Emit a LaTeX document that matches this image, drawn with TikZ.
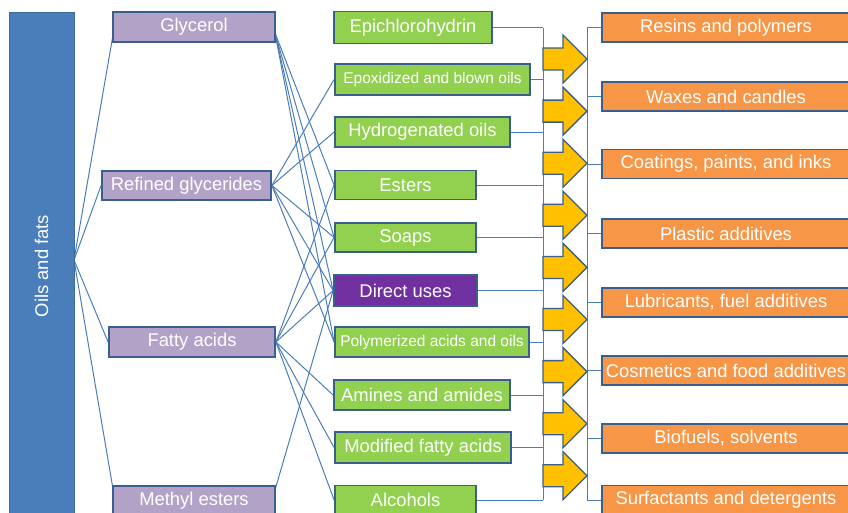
\documentclass[tikz,border=0pt]{standalone}
\usepackage{fontspec}
\setmainfont{Liberation Sans}
\usetikzlibrary{calc,backgrounds}
\definecolor{barblue}{HTML}{4A7EBB}
\definecolor{barline}{HTML}{3F6A9E}
\definecolor{bord}{HTML}{3A5F8E}
\definecolor{lav}{HTML}{B3A2C7}
\definecolor{grn}{HTML}{92D050}
\definecolor{plum}{HTML}{7030A0}
\definecolor{orng}{HTML}{F79646}
\definecolor{gold}{HTML}{FFC000}
\definecolor{connc}{HTML}{4A7EBB}
\tikzset{
  box/.style={draw=bord, line width=1.8pt, text=white, inner sep=0pt,
    font=\fontsize{18.4}{22}\selectfont},
  src/.style={box, fill=lav, minimum height=30pt},
  prod/.style={box, fill=grn, minimum height=30pt},
  enduse/.style={box, fill=orng, minimum width=248pt, minimum height=29pt},
  smalltxt/.style={font=\fontsize{15.5}{18}\selectfont},
  link/.style={draw=connc, line width=1pt},
  blockarrow/.style={fill=gold, draw=bord, line width=1.3pt, line join=miter},
}
\begin{document}
\begin{tikzpicture}[x=1pt,y=-1pt]
\useasboundingbox (0,0) rectangle (848,512);
\clip (0,0) rectangle (848,512);

% left bar
\node[draw=barline, fill=barblue, line width=1pt, rotate=90, inner sep=0pt,
  minimum width=508pt, minimum height=65pt, text=white,
  font=\fontsize{18.4}{22}\selectfont] (bar) at (41.5,266) {Oils and fats};

% sources
\node[src, minimum width=162pt] (gly) at (194,27) {Glycerol};
\node[src, minimum width=169pt, minimum height=29pt] (rg) at (186.5,185.5) {Refined glycerides};
\node[src, minimum width=166pt] (fa) at (192,342) {Fatty acids};
\node[src, minimum width=162pt] (me) at (194,501) {Methyl esters};

% products
\node[prod, minimum width=158pt, minimum height=32pt] (epi) at (413,27.5) {Epichlorohydrin};
\node[prod, minimum width=195pt, minimum height=31pt, smalltxt] (epo) at (432.5,79.5) {Epoxidized and blown oils};
\node[prod, minimum width=175pt] (hyd) at (422.5,132) {Hydrogenated oils};
\node[prod, minimum width=141pt, minimum height=29pt] (est) at (405.5,185) {Esters};
\node[prod, minimum width=141pt, minimum height=29pt] (soa) at (405.5,237.5) {Soaps};
\node[box, fill=plum, minimum width=143pt, minimum height=31pt] (dir) at (405.5,290.5) {Direct uses\hspace{10pt}};
\node[prod, minimum width=194pt, smalltxt] (pol) at (432,342) {Polymerized acids and oils};
\node[prod, minimum width=176pt] (ami) at (422,395) {Amines and amides};
\node[prod, minimum width=176pt, minimum height=31pt] (mod) at (423,447.5) {Modified fatty acids};
\node[prod, minimum width=141pt, minimum height=29pt] (alc) at (405.5,500) {Alcohols};

% end uses
\node[enduse] (res) at (726,27.5) {Resins and polymers};
\node[enduse] (wax) at (726,96.5) {Waxes and candles};
\node[enduse] (coa) at (726,164) {Coatings, paints, and inks};
\node[enduse] (pla) at (726,233.5) {Plastic additives};
\node[enduse] (lub) at (726,302.5) {Lubricants, fuel additives};
\node[enduse] (cos) at (726,370.5) {Cosmetics and food additives};
\node[enduse] (bio) at (726,438.5) {Biofuels, solvents};
\node[enduse] (sur) at (726,500) {Surfactants and detergents};

\coordinate (o) at (74,260);
\coordinate (gin) at (113,35);
\coordinate (min) at (113,489);
\coordinate (gout) at (275,33);
\coordinate (mout) at (275,490);
\coordinate (bx) at (543,0);
\coordinate (rx) at (587,0);

\begin{scope}[on background layer]
  \fill[white] (0,0) rectangle (848,512);
  % from the bar
  \draw[link] (o) -- (gin);
  \draw[link] (o) -- (rg.west);
  \draw[link] (o) -- (fa.west);
  \draw[link] (o) -- (min);
  % glycerol
  \foreach \t in {est,soa,dir,pol} \draw[link] (gout) -- (\t.west);
  % refined glycerides
  \foreach \t in {epo,hyd,soa,dir,pol} \draw[link] (rg.east) -- (\t.west);
  % fatty acids
  \foreach \t in {est,soa,dir,ami,mod,alc} \draw[link] (fa.east) -- (\t.west);
  % methyl esters
  \draw[link] (mout) -- (dir.west);
  % left bracket
  \foreach \t in {epi,epo,hyd,est,soa,dir,pol,ami,mod,alc}
    \draw[link] (\t.east) -- (bx |- \t.east);
  \draw[link] (bx |- epi.east) -- (bx |- alc.east);
  % right bracket
  \draw[link] (rx |- res.west) -- (rx |- sur.west);
  \foreach \t in {res,wax,coa,pla,lub,cos,bio,sur}
    \draw[link] (rx |- \t.west) -- (\t.west);
\end{scope}

% block arrows
\foreach \c in {59,111.1,163.2,215.3,267.4,319.5,371.6,423.7,475.8}
  \draw[blockarrow] (543,\c-11) -- (563,\c-11) -- (563,\c-24) -- (587,\c)
    -- (563,\c+24) -- (563,\c+11) -- (543,\c+11) -- cycle;
\end{tikzpicture}
\end{document}
